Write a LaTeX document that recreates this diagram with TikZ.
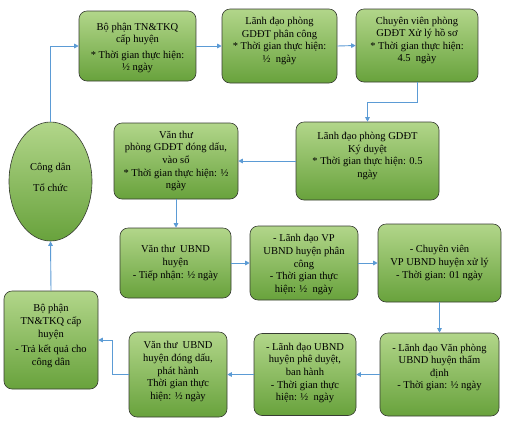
\documentclass[tikz,border=0pt]{standalone}
\usepackage{fontspec}
\setmainfont{Liberation Serif}
\usetikzlibrary{arrows.meta,shapes.geometric}
\definecolor{gtop}{RGB}{178,214,138}
\definecolor{gbot}{RGB}{104,162,60}
\definecolor{edgec}{RGB}{55,60,50}
\definecolor{arr}{RGB}{91,155,213}
\begin{document}
\begin{tikzpicture}[x=1pt,y=-1pt,
  box/.style={draw=edgec, line width=0.6pt, rounded corners=8pt, top color=gtop, bottom color=gbot, inner sep=0pt},
  txt/.style={align=center, font=\fontsize{10.5}{12.6}\selectfont, inner sep=0pt},
  link/.style={draw=arr, line width=0.9pt, -{Triangle[length=4.5pt,width=4.5pt]}}]
\useasboundingbox[fill=white] (0,0) rectangle (509,424);

% boxes
\node[box, minimum width=117pt, minimum height=70pt] (b1) at (137.5,46) {};
\node[box, minimum width=115pt, minimum height=74pt] (b2) at (279.5,46) {};
\node[box, minimum width=122pt, minimum height=73pt] (b3) at (417,45.5) {};
\node[box, minimum width=143pt, minimum height=78pt] (b4) at (367.5,161) {};
\node[box, minimum width=124pt, minimum height=76pt] (b5) at (176,161) {};
\node[box, minimum width=111pt, minimum height=70pt] (b6) at (175.5,263) {};
\node[box, minimum width=108pt, minimum height=74pt] (b7) at (304,263) {};
\node[box, minimum width=123pt, minimum height=78pt] (b8) at (439.5,263) {};
\node[box, minimum width=119pt, minimum height=83pt] (b9) at (439.5,374.5) {};
\node[box, minimum width=102pt, minimum height=82pt] (b10) at (305,374.5) {};
\node[box, minimum width=98pt, minimum height=85pt] (b11) at (178,374.5) {};
\node[box, minimum width=94pt, minimum height=98pt] (b12) at (51,340) {};
\node[box, ellipse, minimum width=83pt, minimum height=119pt] (e) at (50.5,181.5) {};

% texts
\node[txt, yshift=-2pt] (t1) at (b1) {Bộ phận TN\&TKQ\\ cấp huyện\\[3pt] * Thời gian thực hiện:\\ ½ ngày};
\node[txt, yshift=5pt] (t2) at (b2) {Lãnh đạo phòng\\ GDĐT phân công\\ * Thời gian thực hiện:\\ ½~ ngày};
\node[txt, yshift=5pt] (t3) at (b3) {Chuyên viên phòng\\ GDĐT Xử lý hồ sơ\\ * Thời gian thực hiện:\\ 4.5~ ngày};
\node[txt, yshift=5pt] (t4) at (b4) {Lãnh đạo phòng GDĐT\\ Ký duyệt\\ * Thời gian thực hiện: 0.5\\ ngày};
\node[txt] (t5) at (b5) {Văn thư\\ phòng GDĐT đóng dấu,\\ vào sổ\\ * Thời gian thực hiện: ½\\ ngày};
\node[txt] (t6) at (b6) {Văn thư~ UBND\\ huyện\\ - Tiếp nhận: ½ ngày};
\node[txt, yshift=-1.5pt] (t7) at (b7) {- Lãnh đạo VP\\ UBND huyện phân\\ công\\ - Thời gian thực\\ hiện: ½~ ngày};
\node[txt] (t8) at (b8) {- Chuyên viên\\ VP UBND huyện xử lý\\ - Thời gian: 01 ngày};
\node[txt, yshift=7pt] (t9) at (b9) {- Lãnh đạo Văn phòng\\ UBND huyện thẩm\\ định\\ - Thời gian: ½ ngày};
\node[txt, yshift=1.5pt] (t10) at (b10) {- Lãnh đạo UBND\\ huyện phê duyệt,\\ ban hành\\ - Thời gian thực\\ hiện: ½~ ngày};
\node[txt, yshift=3pt] (t11) at (b11) {Văn thư~ UBND\\ huyện đóng dấu,\\ phát hành\\ Thời gian thực\\ hiện: ½ ngày};
\node[txt, yshift=4pt] (t12) at (b12) {Bộ phận\\ TN\&TKQ cấp\\ huyện\\[3pt] - Trả kết quả cho\\ công dân};
\node[txt, yshift=4pt] (te) at (e) {Công dân\\[8pt] Tổ chức};

% connectors
\draw[link] (e.north) |- (b1.west);
\draw[link] (b1.east) -- (b2.west);
\draw[link] (b2.east) -- (b3.west);
\draw[link] (b3.south) -- ([yshift=-20pt]b3.south) -| (b4.north);
\draw[link] (b4.west) -- (b5.east);
\draw[link] (b5.south) -- (b5.south |- b6.north);
\draw[link] (b6.east) -- (b7.west);
\draw[link] (b7.east) -- (b8.west);
\draw[link] (b8.south) -- (b9.north);
\draw[link] (b9.west) -- (b10.east);
\draw[link] (b10.west) -- (b11.east);
\draw[link] (b11.west) -- ++(-16,0) |- (b12.east);
\draw[link] (b12.north) -- (e.south);
\end{tikzpicture}
\end{document}
